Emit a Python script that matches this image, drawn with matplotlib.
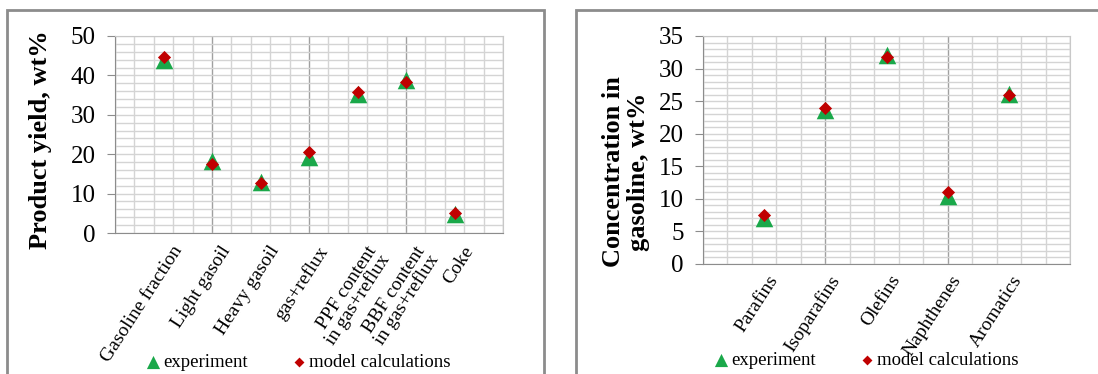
import matplotlib
matplotlib.use("Agg")
import matplotlib.pyplot as plt
import matplotlib.transforms as mtransforms
from matplotlib.patches import Rectangle
from matplotlib.ticker import MultipleLocator

plt.rcParams['font.family'] = ['Liberation Serif', 'DejaVu Serif']

# left chart: product yields, wt%
yield_labels = ['Gasoline fraction', 'Light gasoil', 'Heavy gasoil', 'gas+reflux',
                'PPF content\nin gas+reflux', 'BBF content\nin gas+reflux', 'Coke']
yield_exp = [43.9, 18.2, 12.9, 19.4, 35.3, 38.8, 4.8]
yield_model = [44.6, 17.6, 12.6, 20.5, 35.9, 38.3, 5.0]

# right chart: hydrocarbon groups in gasoline, wt%
group_labels = ['Parafins', 'Isoparafins', 'Olefins', 'Naphthenes', 'Aromatics']
group_exp = [7.1, 23.7, 32.1, 10.5, 26.1]
group_model = [7.5, 23.9, 31.8, 11.1, 25.9]

GREEN = '#1aa84a'
RED = '#c00000'
W, H = 1098, 374

fig = plt.figure(figsize=(W / 100, H / 100), dpi=100)


def px(x0, y0, x1, y1):
    # pixel box -> figure fraction [left, bottom, width, height]
    return [x0 / W, 1 - y1 / H, (x1 - x0) / W, (y1 - y0) / H]


def draw(ax, labels, exp, model, ymax, ystep, yminor, dx, dy):
    xs = list(range(1, len(labels) + 1))
    ax.scatter(xs, exp, marker='^', s=160, color=GREEN, zorder=3, label='experiment',
               linewidths=0)
    ax.scatter(xs, model, marker='D', s=45, color=RED, zorder=4, label='model calculations',
               linewidths=0)
    ax.set_xlim(0, len(labels) + 1)
    ax.set_ylim(0, ymax)
    ax.xaxis.set_major_locator(MultipleLocator(2))
    ax.xaxis.set_minor_locator(MultipleLocator(0.4))
    ax.yaxis.set_major_locator(MultipleLocator(ystep))
    ax.yaxis.set_minor_locator(MultipleLocator(yminor))
    ax.set_axisbelow(True)
    ax.grid(which='minor', color='#d4d4d4', lw=1)
    ax.grid(which='major', axis='y', color='#d4d4d4', lw=1)
    ax.grid(which='major', axis='x', color='#a0a0a0', lw=1)
    ax.tick_params(axis='x', which='both', length=0, labelbottom=False)
    ax.tick_params(axis='y', which='minor', length=0)
    ax.tick_params(axis='y', which='major', length=6, color='#8c8c8c', labelsize=18, pad=8)
    for side in ('left', 'bottom'):
        ax.spines[side].set_color('#8c8c8c')
    for side in ('top', 'right'):
        ax.spines[side].set_color('#c8c8c8')
    trans = mtransforms.blended_transform_factory(ax.transData, ax.transAxes)
    off = mtransforms.ScaledTranslation(dx / 100, -dy / 100, fig.dpi_scale_trans)
    for x, lab in zip(xs, labels):
        ax.text(x, 0, lab, transform=trans + off, rotation=57, rotation_mode='anchor',
                ha='right', va='top', fontsize=14, multialignment='right', linespacing=0.9)


ax1 = fig.add_axes(px(115, 36, 503, 233))
draw(ax1, yield_labels, yield_exp, yield_model, 50, 10, 2, 8, 10)
ax2 = fig.add_axes(px(703, 36, 1070, 264))
draw(ax2, group_labels, group_exp, group_model, 35, 5, 1, 3, 8)

fig.text(40 / W, 1 - 140 / H, 'Product yield, wt%', rotation=90, ha='center', va='center',
         fontsize=19, fontweight='bold')
fig.text(626 / W, 1 - 172 / H, 'Concentration in\ngasoline, wt%', rotation=90, ha='center',
         va='center', fontsize=19, fontweight='bold', multialignment='center', linespacing=1.15)

for ax, cx, cy in ((ax1, 297, 362), (ax2, 865, 360)):
    ax.legend(loc='center', bbox_to_anchor=(cx / W, 1 - cy / H), bbox_transform=fig.transFigure,
              ncol=2, frameon=False, fontsize=13.5, columnspacing=2.2, handletextpad=0.05,
              handlelength=1.0, markerscale=0.75, borderpad=0)

# chart frames
fig.add_artist(Rectangle((7 / W, -0.1), 537 / W, 1.1 - 10 / H, transform=fig.transFigure,
                         fill=False, edgecolor='#8c8c8c', lw=2))
fig.add_artist(Rectangle((576 / W, -0.1), 0.6, 1.1 - 10 / H, transform=fig.transFigure,
                         fill=False, edgecolor='#8c8c8c', lw=2))

fig.savefig('out.png', dpi=100)
